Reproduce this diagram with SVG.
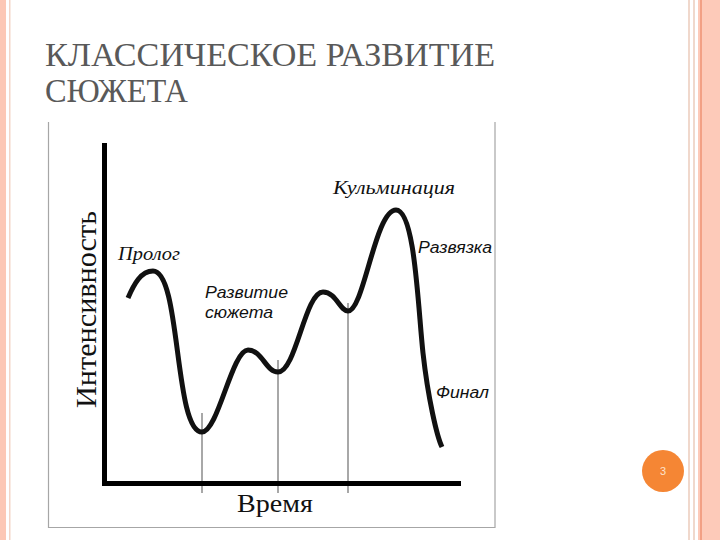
<svg xmlns="http://www.w3.org/2000/svg" width="720" height="540" viewBox="0 0 720 540">
<style>
.serif{font-family:"Liberation Serif","Times New Roman",serif}
.sans{font-family:"Liberation Sans",Arial,sans-serif}
.lbl{font-style:italic;fill:#111}
.guide{stroke:#8c8c8c;stroke-width:1.5;fill:none}
.axis{stroke:#000;stroke-width:5;fill:none}
.frame{stroke:#a6a6a6;stroke-width:1.2;fill:none}
.ttl{font-family:"Liberation Serif","Times New Roman",serif;fill:#595959;font-size:33px}
</style>
<rect width="720" height="540" fill="#fff"/>
<g id="left-band">
<rect x="0" y="0" width="6" height="540" fill="#fcc7b5"/>
<rect x="9" y="0" width="1.5" height="540" fill="#f3d6c8"/>
</g>
<g id="right-band">
<rect x="688" y="0" width="2" height="540" fill="#f0d8cc"/>
<rect x="693" y="0" width="2" height="540" fill="#f0d8cc"/>
<rect x="698" y="0" width="22" height="540" fill="#fdcab9"/>
<rect x="700" y="0" width="2" height="540" fill="#f2a085"/>
</g>
<g id="title">
<text class="ttl" x="45" y="66" textLength="450" lengthAdjust="spacingAndGlyphs">КЛАССИЧЕСКОЕ РАЗВИТИЕ</text>
<text class="ttl" x="45" y="102" textLength="143" lengthAdjust="spacingAndGlyphs">СЮЖЕТА</text>
</g>
<g id="picture-frame">
<path class="frame" d="M48.5 122V527.5H495V122"/>
</g>
<g id="connectors">
<path class="guide" d="M202 413V493M278 360V493M348 303V493"/>
<path class="axis" d="M104.5 143V486M102 483.5H461"/>
<path id="curve" fill="none" stroke="#111" stroke-width="5" stroke-linecap="butt" d="M128 298C134 284 141 271 153 271C181 271 174 432 202 432C218 432 232 350 248 350C262 350 266 372 278 372C296 372 305 292 323 292C336 292 340 311 348 311C364 311 375 210 396 210C415 210 418 308 423 353C428 398 437 437 442 447"/>
</g>
<g id="axis-y-label">
<text class="serif" font-size="29" fill="#111" transform="translate(96 408) rotate(-90)" textLength="197" lengthAdjust="spacingAndGlyphs">Интенсивность</text>
</g>
<g id="axis-x-label">
<text class="serif" font-size="26" fill="#111" x="237" y="512" textLength="76" lengthAdjust="spacingAndGlyphs">Время</text>
</g>
<g id="prolog"><text class="serif lbl" font-size="18" x="118" y="260" textLength="62" lengthAdjust="spacingAndGlyphs">Пролог</text></g>
<g id="kulminacia"><text class="serif lbl" font-size="18" x="333" y="194" textLength="122" lengthAdjust="spacingAndGlyphs">Кульминация</text></g>
<g id="razvyazka"><text class="sans lbl" font-size="16" x="418" y="253" textLength="74" lengthAdjust="spacingAndGlyphs">Развязка</text></g>
<g id="razvitie">
<text class="sans lbl" font-size="17" x="205" y="298" textLength="83" lengthAdjust="spacingAndGlyphs">Развитие</text>
<text class="sans lbl" font-size="17" x="205" y="318" textLength="68" lengthAdjust="spacingAndGlyphs">сюжета</text>
</g>
<g id="final"><text class="sans lbl" font-size="16" x="436" y="398" textLength="53" lengthAdjust="spacingAndGlyphs">Финал</text></g>
<g id="page-number">
<circle cx="663" cy="471" r="21" fill="#f58634"/>
<text class="sans" font-size="11" fill="#fde3cc" x="663" y="475" text-anchor="middle">3</text>
</g>
</svg>
